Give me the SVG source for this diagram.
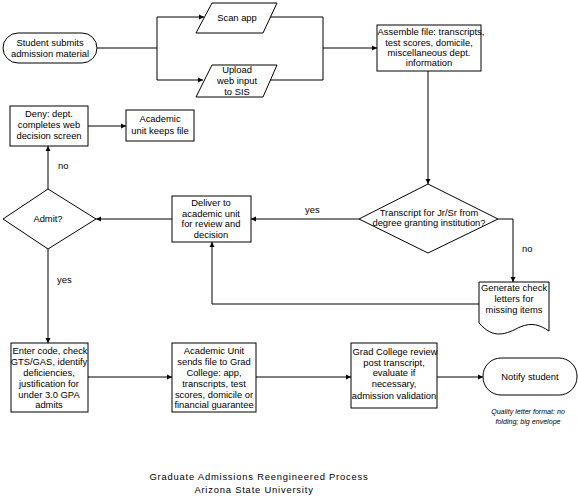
<svg xmlns="http://www.w3.org/2000/svg" width="578" height="504" viewBox="0 0 578 504">
<defs>
<marker id="arr" markerWidth="6" markerHeight="6" refX="5" refY="3" orient="auto" markerUnits="userSpaceOnUse">
<path d="M0,0.5 L5,3 L0,5.5 Z" fill="#000"/>
</marker>
<style>
.s{fill:#fff;stroke:#000;stroke-width:1}
.t{font-family:"Liberation Sans",Arial,sans-serif;font-size:9.4px;fill:#000;text-anchor:middle}
.l{font-family:"Liberation Sans",Arial,sans-serif;font-size:9.4px;fill:#000}
.n{font-family:"Liberation Sans",Arial,sans-serif;font-size:7.1px;font-style:italic;fill:#000;text-anchor:middle}
.h{font-family:"Liberation Sans",Arial,sans-serif;font-size:9.4px;letter-spacing:0.8px;fill:#000;text-anchor:middle}
.c{fill:none;stroke:#000;stroke-width:1}
.a{marker-end:url(#arr)}
</style>
</defs>
<rect width="578" height="504" fill="#fff"/>
<g id="connectors">
<path class="c a" d="M97,48 H157 V17 H204"/>
<path class="c a" d="M157,48 V80 H203"/>
<path class="c" d="M270,17 H323 V80 H270"/>
<path class="c a" d="M323,48 H377"/>
<path class="c a" d="M428,71 V184"/>
<path class="c a" d="M359,219 H251"/>
<path class="c a" d="M498,219 H513 V282"/>
<path class="c a" d="M479,304 H212 V242"/>
<path class="c a" d="M172,219 H96"/>
<path class="c a" d="M48,189 V146"/>
<path class="c a" d="M88,126 H126"/>
<path class="c a" d="M48,249 V343"/>
<path class="c a" d="M88,377 H172"/>
<path class="c a" d="M256,377 H351"/>
<path class="c a" d="M437,377 H483"/>
<text class="l" x="305" y="213">yes</text>
<text class="l" x="522" y="252">no</text>
<text class="l" x="58" y="169">no</text>
<text class="l" x="57" y="283">yes</text>
</g>
<g id="start">
<rect class="s" x="3" y="33" width="94" height="30" rx="15"/>
<text class="t" x="50" y="46">Student submits</text>
<text class="t" x="50" y="57">admission material</text>
</g>
<g id="scan">
<path class="s" d="M212,3 H277 L263,33 H196 Z"/>
<text class="t" x="237" y="21">Scan app</text>
</g>
<g id="upload">
<path class="s" d="M212,65 H277 L263,97 H196 Z"/>
<text class="t" x="237" y="73">Upload</text>
<text class="t" x="237" y="84">web input</text>
<text class="t" x="237" y="95">to SIS</text>
</g>
<g id="assemble">
<rect class="s" x="377" y="25" width="104" height="46"/>
<text class="t" x="431" y="35">Assemble file: transcripts,</text>
<text class="t" x="429" y="46">test scores, domicile,</text>
<text class="t" x="429" y="56">miscellaneous dept.</text>
<text class="t" x="429" y="66">information</text>
</g>
<g id="transcript">
<path class="s" d="M428,184 L498,219 L428,253 L359,219 Z"/>
<text class="t" x="429" y="216">Transcript for Jr/Sr from</text>
<text class="t" x="429" y="226">degree granting institution?</text>
</g>
<g id="generate">
<path class="s" d="M479,282 H549 V331 C540,325 532,322 520,327 C506,334 494,340 479,323 Z"/>
<text class="t" x="514" y="291">Generate check</text>
<text class="t" x="514" y="302">letters for</text>
<text class="t" x="514" y="313">missing items</text>
</g>
<g id="deliver">
<rect class="s" x="172" y="196" width="79" height="46"/>
<text class="t" x="211" y="206">Deliver to</text>
<text class="t" x="211" y="217">academic unit</text>
<text class="t" x="211" y="227">for review and</text>
<text class="t" x="211" y="238">decision</text>
</g>
<g id="admit">
<path class="s" d="M48,189 L96,219 L48,249 L3,219 Z"/>
<text class="t" x="48" y="222">Admit?</text>
</g>
<g id="deny">
<rect class="s" x="10" y="106" width="78" height="40"/>
<text class="t" x="49" y="117">Deny: dept.</text>
<text class="t" x="49" y="128">completes web</text>
<text class="t" x="49" y="139">decision screen</text>
</g>
<g id="keeps">
<rect class="s" x="126" y="110" width="68" height="31"/>
<text class="t" x="160" y="122">Academic</text>
<text class="t" x="160" y="134">unit keeps file</text>
</g>
<g id="enter">
<rect class="s" x="11" y="343" width="77" height="69"/>
<text class="t" x="50" y="354">Enter code, check</text>
<text class="t" x="49" y="365">GTS/GAS, identify</text>
<text class="t" x="49" y="376">deficiencies,</text>
<text class="t" x="49" y="387">justification for</text>
<text class="t" x="49" y="398">under 3.0 GPA</text>
<text class="t" x="49" y="408">admits</text>
</g>
<g id="academic-unit">
<rect class="s" x="172" y="343" width="84" height="69"/>
<text class="t" x="214" y="354">Academic Unit</text>
<text class="t" x="214" y="365">sends file to Grad</text>
<text class="t" x="214" y="376">College: app,</text>
<text class="t" x="214" y="387">transcripts, test</text>
<text class="t" x="214" y="398">scores, domicile or</text>
<text class="t" x="214" y="408">financial guarantee</text>
</g>
<g id="grad-college">
<rect class="s" x="351" y="343" width="86" height="65"/>
<text class="t" x="395" y="355">Grad College review</text>
<text class="t" x="394" y="366">post transcript,</text>
<text class="t" x="394" y="376">evaluate if</text>
<text class="t" x="394" y="387">necessary,</text>
<text class="t" x="394" y="399">admission validation</text>
</g>
<g id="notify">
<rect class="s" x="483" y="358" width="94" height="37" rx="18"/>
<text class="t" x="530" y="380">Notify student</text>
</g>
<g id="note">
<text class="n" x="528" y="414">Quality letter format: no</text>
<text class="n" x="528" y="424">folding; big envelope</text>
</g>
<g id="title">
<text class="h" x="259" y="480">Graduate Admissions Reengineered Process</text>
<text class="h" x="254" y="493">Arizona State University</text>
</g>
</svg>
